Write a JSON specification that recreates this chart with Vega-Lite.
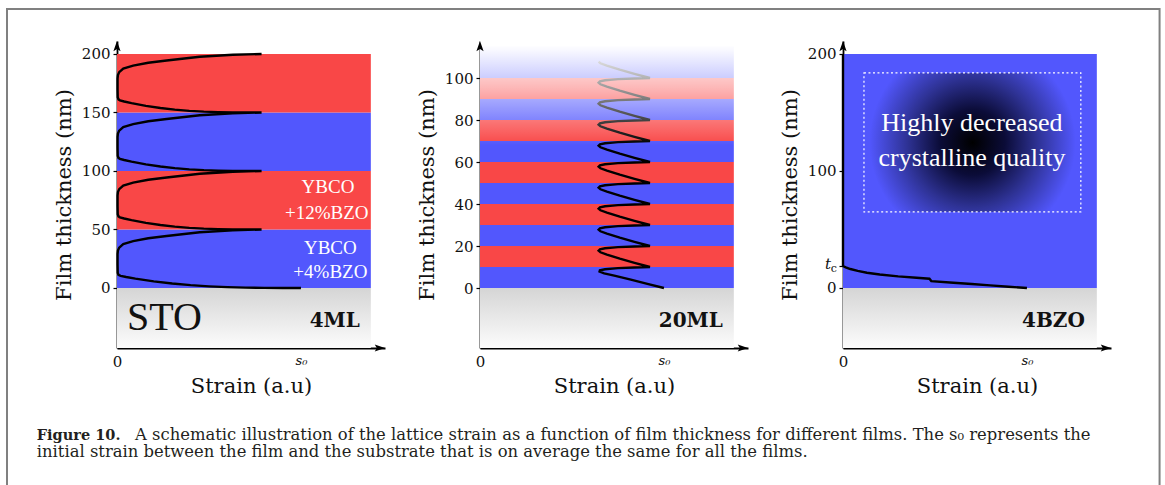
{
  "$schema": "https://vega.github.io/schema/vega-lite/v6.json",
  "padding": {"left": 6, "top": 7, "right": 0, "bottom": 0},
  "autosize": {"type": "pad"},
  "background": "white",
  "spacing": 95,
  "bounds": "flush",
  "datasets": {
    "bands1": [
      {"y0": 0, "y1": 50, "m": "b"},
      {"y0": 50, "y1": 100, "m": "r"},
      {"y0": 100, "y1": 150, "m": "b"},
      {"y0": 150, "y1": 200, "m": "r"}
    ],
    "bands2": [
      {"y0": 0, "y1": 10, "m": "b"},
      {"y0": 10, "y1": 20, "m": "r"},
      {"y0": 20, "y1": 30, "m": "b"},
      {"y0": 30, "y1": 40, "m": "r"},
      {"y0": 40, "y1": 50, "m": "b"},
      {"y0": 50, "y1": 60, "m": "r"},
      {"y0": 60, "y1": 70, "m": "b"},
      {"y0": 70, "y1": 80, "m": "r"},
      {"y0": 80, "y1": 90, "m": "b"},
      {"y0": 90, "y1": 100, "m": "r"},
      {"y0": 100, "y1": 115, "m": "b"}
    ],
    "bands3": [
      {"y0": 0, "y1": 200, "m": "b"}
    ],
    "curve1": [
      {"s": 1.0, "h": 0}, {"s": 0.9, "h": 0.01}, {"s": 0.8, "h": 0.09}, {"s": 0.7, "h": 0.3}, {"s": 0.6, "h": 0.7}, {"s": 0.5, "h": 1.4}, {"s": 0.4, "h": 2.4}, {"s": 0.3, "h": 3.8}, {"s": 0.2, "h": 5.6}, {"s": 0.1, "h": 8.0}, {"s": 0.05, "h": 9.4}, {"s": 0.02, "h": 10.4}, {"s": 0.008, "h": 11.2}, {"s": 0.004, "h": 13}, {"s": 0.003, "h": 20}, {"s": 0.003, "h": 29}, {"s": 0.005, "h": 32}, {"s": 0.012, "h": 34.5}, {"s": 0.034, "h": 37.6}, {"s": 0.088, "h": 40}, {"s": 0.17, "h": 42.5}, {"s": 0.27, "h": 44.4}, {"s": 0.45, "h": 47.6}, {"s": 0.63, "h": 49.3}, {"s": 0.786, "h": 50},
      {"s": 0.707, "h": 50.01}, {"s": 0.629, "h": 50.09}, {"s": 0.55, "h": 50.3}, {"s": 0.472, "h": 50.7}, {"s": 0.393, "h": 51.4}, {"s": 0.314, "h": 52.4}, {"s": 0.236, "h": 53.8}, {"s": 0.157, "h": 55.6}, {"s": 0.079, "h": 58}, {"s": 0.039, "h": 59.4}, {"s": 0.016, "h": 60.4}, {"s": 0.008, "h": 61.2}, {"s": 0.004, "h": 63}, {"s": 0.003, "h": 70}, {"s": 0.003, "h": 79}, {"s": 0.005, "h": 82}, {"s": 0.012, "h": 84.5}, {"s": 0.034, "h": 87.6}, {"s": 0.088, "h": 90}, {"s": 0.17, "h": 92.5}, {"s": 0.27, "h": 94.4}, {"s": 0.45, "h": 97.6}, {"s": 0.63, "h": 99.3}, {"s": 0.786, "h": 100},
      {"s": 0.707, "h": 100.01}, {"s": 0.629, "h": 100.09}, {"s": 0.55, "h": 100.3}, {"s": 0.472, "h": 100.7}, {"s": 0.393, "h": 101.4}, {"s": 0.314, "h": 102.4}, {"s": 0.236, "h": 103.8}, {"s": 0.157, "h": 105.6}, {"s": 0.079, "h": 108}, {"s": 0.039, "h": 109.4}, {"s": 0.016, "h": 110.4}, {"s": 0.008, "h": 111.2}, {"s": 0.004, "h": 113}, {"s": 0.003, "h": 120}, {"s": 0.003, "h": 129}, {"s": 0.005, "h": 132}, {"s": 0.012, "h": 134.5}, {"s": 0.034, "h": 137.6}, {"s": 0.088, "h": 140}, {"s": 0.17, "h": 142.5}, {"s": 0.27, "h": 144.4}, {"s": 0.45, "h": 147.6}, {"s": 0.63, "h": 149.3}, {"s": 0.786, "h": 150},
      {"s": 0.707, "h": 150.01}, {"s": 0.629, "h": 150.09}, {"s": 0.55, "h": 150.3}, {"s": 0.472, "h": 150.7}, {"s": 0.393, "h": 151.4}, {"s": 0.314, "h": 152.4}, {"s": 0.236, "h": 153.8}, {"s": 0.157, "h": 155.6}, {"s": 0.079, "h": 158}, {"s": 0.039, "h": 159.4}, {"s": 0.016, "h": 160.4}, {"s": 0.008, "h": 161.2}, {"s": 0.004, "h": 163}, {"s": 0.003, "h": 170}, {"s": 0.003, "h": 179}, {"s": 0.005, "h": 182}, {"s": 0.012, "h": 184.5}, {"s": 0.034, "h": 187.6}, {"s": 0.088, "h": 190}, {"s": 0.17, "h": 192.5}, {"s": 0.27, "h": 194.4}, {"s": 0.45, "h": 197.6}, {"s": 0.63, "h": 199.3}, {"s": 0.786, "h": 200}
    ],
    "curve2": [
      {"s": 1.0, "h": 0}, {"s": 0.91, "h": 2.0}, {"s": 0.82, "h": 4.0}, {"s": 0.73, "h": 5.9}, {"s": 0.675, "h": 7.0}, {"s": 0.65, "h": 7.8}, {"s": 0.652, "h": 8.4}, {"s": 0.68, "h": 8.95}, {"s": 0.75, "h": 9.45}, {"s": 0.84, "h": 9.78}, {"s": 0.924, "h": 10},
      {"s": 0.84, "h": 12}, {"s": 0.76, "h": 14}, {"s": 0.69, "h": 15.9}, {"s": 0.655, "h": 17}, {"s": 0.645, "h": 17.8}, {"s": 0.652, "h": 18.4}, {"s": 0.68, "h": 18.95}, {"s": 0.75, "h": 19.45}, {"s": 0.84, "h": 19.78}, {"s": 0.924, "h": 20},
      {"s": 0.84, "h": 22}, {"s": 0.76, "h": 24}, {"s": 0.69, "h": 25.9}, {"s": 0.655, "h": 27}, {"s": 0.645, "h": 27.8}, {"s": 0.652, "h": 28.4}, {"s": 0.68, "h": 28.95}, {"s": 0.75, "h": 29.45}, {"s": 0.84, "h": 29.78}, {"s": 0.924, "h": 30},
      {"s": 0.84, "h": 32}, {"s": 0.76, "h": 34}, {"s": 0.69, "h": 35.9}, {"s": 0.655, "h": 37}, {"s": 0.645, "h": 37.8}, {"s": 0.652, "h": 38.4}, {"s": 0.68, "h": 38.95}, {"s": 0.75, "h": 39.45}, {"s": 0.84, "h": 39.78}, {"s": 0.924, "h": 40},
      {"s": 0.84, "h": 42}, {"s": 0.76, "h": 44}, {"s": 0.69, "h": 45.9}, {"s": 0.655, "h": 47}, {"s": 0.645, "h": 47.8}, {"s": 0.652, "h": 48.4}, {"s": 0.68, "h": 48.95}, {"s": 0.75, "h": 49.45}, {"s": 0.84, "h": 49.78}, {"s": 0.924, "h": 50},
      {"s": 0.84, "h": 52}, {"s": 0.76, "h": 54}, {"s": 0.69, "h": 55.9}, {"s": 0.655, "h": 57}, {"s": 0.645, "h": 57.8}, {"s": 0.652, "h": 58.4}, {"s": 0.68, "h": 58.95}, {"s": 0.75, "h": 59.45}, {"s": 0.84, "h": 59.78}, {"s": 0.924, "h": 60},
      {"s": 0.84, "h": 62}, {"s": 0.76, "h": 64}, {"s": 0.69, "h": 65.9}, {"s": 0.655, "h": 67}, {"s": 0.645, "h": 67.8}, {"s": 0.652, "h": 68.4}, {"s": 0.68, "h": 68.95}, {"s": 0.75, "h": 69.45}, {"s": 0.84, "h": 69.78}, {"s": 0.924, "h": 70},
      {"s": 0.84, "h": 72}, {"s": 0.76, "h": 74}, {"s": 0.69, "h": 75.9}, {"s": 0.655, "h": 77}, {"s": 0.645, "h": 77.8}, {"s": 0.652, "h": 78.4}, {"s": 0.68, "h": 78.95}, {"s": 0.75, "h": 79.45}, {"s": 0.84, "h": 79.78}, {"s": 0.924, "h": 80},
      {"s": 0.84, "h": 82}, {"s": 0.76, "h": 84}, {"s": 0.69, "h": 85.9}, {"s": 0.655, "h": 87}, {"s": 0.645, "h": 87.8}, {"s": 0.652, "h": 88.4}, {"s": 0.68, "h": 88.95}, {"s": 0.75, "h": 89.45}, {"s": 0.84, "h": 89.78}, {"s": 0.924, "h": 90},
      {"s": 0.84, "h": 92}, {"s": 0.76, "h": 94}, {"s": 0.69, "h": 95.9}, {"s": 0.655, "h": 97}, {"s": 0.645, "h": 97.8}, {"s": 0.652, "h": 98.4}, {"s": 0.68, "h": 98.95}, {"s": 0.75, "h": 99.45}, {"s": 0.84, "h": 99.78}, {"s": 0.924, "h": 100},
      {"s": 0.84, "h": 102}, {"s": 0.76, "h": 104}, {"s": 0.69, "h": 105.9}, {"s": 0.655, "h": 107}, {"s": 0.645, "h": 107.8}
    ],
    "curve3": [
      {"s": 1.0, "h": 0}, {"s": 0.9, "h": 1.1}, {"s": 0.8, "h": 2.2}, {"s": 0.7, "h": 3.4}, {"s": 0.6, "h": 4.5}, {"s": 0.48, "h": 5.9}, {"s": 0.47, "h": 7.9}, {"s": 0.4, "h": 8.7}, {"s": 0.3, "h": 9.9}, {"s": 0.2, "h": 11.5}, {"s": 0.13, "h": 13}, {"s": 0.08, "h": 14.6}, {"s": 0.04, "h": 16.2}, {"s": 0.015, "h": 17.6}, {"s": 0, "h": 18.8}, {"s": 0, "h": 200}
    ]
  },
  "hconcat": [
    {
      "width": 268,
      "height": 307,
      "data": {"values": [{}]},
      "layer": [
        {
          "data": {"name": "bands1"},
          "mark": {"type": "rect"},
          "encoding": {
            "x": {"datum": 0, "type": "quantitative", "scale": {"domain": [0, 1.457], "nice": false, "zero": false},
                  "axis": {"title": "Strain (a.u)", "values": [0, 1], "labelExpr": "datum.value == 0 ? '0' : 's₀'", "ticks": false, "labelPadding": 6, "titlePadding": 6,
                           "labelFont": "DejaVu Serif", "titleFont": "DejaVu Serif", "titleFontSize": 21,
                           "labelFontStyle": {"condition": {"test": "datum.value == 1", "value": "italic"}, "value": "normal"},
                           "labelFontSize": {"condition": {"test": "datum.value == 1", "value": 13}, "value": 15}}},
            "x2": {"datum": 1.38},
            "y": {"field": "y0", "type": "quantitative", "scale": {"domain": [-51.3, 211.1], "nice": false, "zero": false},
                  "axis": {"title": "Film thickness (nm)", "values": [0, 50, 100, 150, 200], "tickSize": 4, "labelPadding": 3, "titlePadding": 7,
                           "labelFont": "DejaVu Serif", "titleFont": "DejaVu Serif", "labelFontSize": 15, "titleFontSize": 21}},
            "y2": {"field": "y1"},
            "color": {"field": "m", "type": "nominal", "scale": {"domain": ["b", "r"], "range": ["#5257fd", "#f94747"]}, "legend": null}
          }
        },
        {
          "mark": {"type": "rect", "fill": {"gradient": "linear", "x1": 0, "y1": 0, "x2": 0, "y2": 1, "stops": [{"offset": 0, "color": "#d5d5d5"}, {"offset": 1, "color": "#fcfcfc"}]}},
          "encoding": {"x": {"datum": 0}, "x2": {"datum": 1.38}, "y": {"datum": 0}, "y2": {"datum": -51.3}}
        },
        {
          "data": {"name": "curve1"},
          "mark": {"type": "line", "color": "black", "strokeWidth": 2.4},
          "encoding": {"x": {"field": "s", "type": "quantitative"}, "y": {"field": "h", "type": "quantitative"}, "order": {"field": "h", "type": "quantitative"}}
        },
        {"mark": {"type": "text", "text": "YBCO", "font": "Liberation Serif", "fontSize": 19, "color": "white", "align": "center", "baseline": "middle"}, "encoding": {"x": {"datum": 1.147}, "y": {"datum": 86.3}}},
        {"mark": {"type": "text", "text": "+12%BZO", "font": "Liberation Serif", "fontSize": 19, "color": "white", "align": "center", "baseline": "middle"}, "encoding": {"x": {"datum": 1.14}, "y": {"datum": 64.4}}},
        {"mark": {"type": "text", "text": "YBCO", "font": "Liberation Serif", "fontSize": 19, "color": "white", "align": "center", "baseline": "middle"}, "encoding": {"x": {"datum": 1.16}, "y": {"datum": 33.9}}},
        {"mark": {"type": "text", "text": "+4%BZO", "font": "Liberation Serif", "fontSize": 19, "color": "white", "align": "center", "baseline": "middle"}, "encoding": {"x": {"datum": 1.16}, "y": {"datum": 13.9}}},
        {"mark": {"type": "text", "text": "STO", "font": "Liberation Serif", "fontSize": 40, "color": "#111111", "align": "left", "baseline": "middle"}, "encoding": {"x": {"datum": 0.054}, "y": {"datum": -25.6}}},
        {"mark": {"type": "text", "text": "4ML", "font": "DejaVu Serif", "fontWeight": "bold", "fontSize": 20, "color": "#111111", "align": "right", "baseline": "middle"}, "encoding": {"x": {"datum": 1.32}, "y": {"datum": -28.2}}},
        {"mark": {"type": "point", "shape": "M0,-1L0.6,0.7L0,0.35L-0.6,0.7Z", "filled": true, "color": "black", "size": 144, "opacity": 1}, "encoding": {"x": {"datum": 0}, "y": {"datum": 206.0}}},
        {"mark": {"type": "point", "shape": "M1,0L-0.7,0.6L-0.35,0L-0.7,-0.6Z", "filled": true, "color": "black", "size": 144, "opacity": 1}, "encoding": {"x": {"datum": 1.424}, "y": {"datum": -51.3}}},
        {"mark": {"type": "rect", "filled": false, "color": "#808080", "strokeWidth": 2}, "encoding": {"x": {"datum": -0.598}, "x2": {"datum": 5.668}, "y": {"datum": 238.5}, "y2": {"datum": -177.8}}},
        {"mark": {"type": "text", "text": "Figure 10.", "font": "DejaVu Serif", "fontWeight": "bold", "fontSize": 14.5, "color": "#231f20", "align": "left", "baseline": "alphabetic"}, "encoding": {"x": {"datum": -0.436}, "y": {"datum": -129.9}}},
        {"mark": {"type": "text", "text": "A schematic illustration of the lattice strain as a function of film thickness for different films. The s₀ represents the", "font": "DejaVu Serif", "fontSize": 16.4, "color": "#231f20", "align": "left", "baseline": "alphabetic"}, "encoding": {"x": {"datum": 0.098}, "y": {"datum": -129.9}}},
        {"mark": {"type": "text", "text": "initial strain between the film and the substrate that is on average the same for all the films.", "font": "DejaVu Serif", "fontSize": 16.4, "color": "#231f20", "align": "left", "baseline": "alphabetic"}, "encoding": {"x": {"datum": -0.436}, "y": {"datum": -144.2}}}
      ]
    },
    {
      "width": 268,
      "height": 307,
      "data": {"values": [{}]},
      "layer": [
        {
          "data": {"name": "bands2"},
          "mark": {"type": "rect"},
          "encoding": {
            "x": {"datum": 0, "type": "quantitative", "scale": {"domain": [0, 1.457], "nice": false, "zero": false},
                  "axis": {"title": "Strain (a.u)", "values": [0, 1], "labelExpr": "datum.value == 0 ? '0' : 's₀'", "ticks": false, "labelPadding": 6, "titlePadding": 6,
                           "labelFont": "DejaVu Serif", "titleFont": "DejaVu Serif", "titleFontSize": 21,
                           "labelFontStyle": {"condition": {"test": "datum.value == 1", "value": "italic"}, "value": "normal"},
                           "labelFontSize": {"condition": {"test": "datum.value == 1", "value": 13}, "value": 15}}},
            "x2": {"datum": 1.38},
            "y": {"field": "y0", "type": "quantitative", "scale": {"domain": [-28.57, 117.62], "nice": false, "zero": false},
                  "axis": {"title": "Film thickness (nm)", "values": [0, 20, 40, 60, 80, 100], "tickSize": 4, "labelPadding": 3, "titlePadding": 7,
                           "labelFont": "DejaVu Serif", "titleFont": "DejaVu Serif", "labelFontSize": 15, "titleFontSize": 21}},
            "y2": {"field": "y1"},
            "color": {"field": "m", "type": "nominal", "scale": {"domain": ["b", "r"], "range": ["#5257fd", "#f94747"]}, "legend": null}
          }
        },
        {
          "mark": {"type": "rect", "fill": {"gradient": "linear", "x1": 0, "y1": 0, "x2": 0, "y2": 1, "stops": [{"offset": 0, "color": "#d5d5d5"}, {"offset": 1, "color": "#fcfcfc"}]}},
          "encoding": {"x": {"datum": 0}, "x2": {"datum": 1.38}, "y": {"datum": 0}, "y2": {"datum": -28.57}}
        },
        {
          "data": {"name": "curve2"},
          "mark": {"type": "line", "color": "black", "strokeWidth": 2.4},
          "encoding": {"x": {"field": "s", "type": "quantitative"}, "y": {"field": "h", "type": "quantitative"}, "order": {"field": "h", "type": "quantitative"}}
        },
        {
          "mark": {"type": "rect", "fill": {"gradient": "linear", "x1": 0, "y1": 0, "x2": 0, "y2": 1, "stops": [{"offset": 0, "color": "rgba(255,255,255,1)"}, {"offset": 0.08, "color": "rgba(255,255,255,0.97)"}, {"offset": 0.44, "color": "rgba(255,255,255,0.62)"}, {"offset": 1, "color": "rgba(255,255,255,0)"}]}},
          "encoding": {"x": {"datum": 0}, "x2": {"datum": 1.4}, "y": {"datum": 68}, "y2": {"datum": 117.62}}
        },
        {"mark": {"type": "text", "text": "20ML", "font": "DejaVu Serif", "fontWeight": "bold", "fontSize": 20, "color": "#111111", "align": "right", "baseline": "middle"}, "encoding": {"x": {"datum": 1.32}, "y": {"datum": -15.7}}},
        {"mark": {"type": "point", "shape": "M0,-1L0.6,0.7L0,0.35L-0.6,0.7Z", "filled": true, "color": "black", "size": 144, "opacity": 1}, "encoding": {"x": {"datum": 0}, "y": {"datum": 114.76}}},
        {"mark": {"type": "point", "shape": "M1,0L-0.7,0.6L-0.35,0L-0.7,-0.6Z", "filled": true, "color": "black", "size": 144, "opacity": 1}, "encoding": {"x": {"datum": 1.424}, "y": {"datum": -28.57}}}
      ]
    },
    {
      "width": 268,
      "height": 307,
      "data": {"values": [{}]},
      "layer": [
        {
          "data": {"name": "bands3"},
          "mark": {"type": "rect"},
          "encoding": {
            "x": {"datum": 0, "type": "quantitative", "scale": {"domain": [0, 1.457], "nice": false, "zero": false},
                  "axis": {"title": "Strain (a.u)", "values": [0, 1], "labelExpr": "datum.value == 0 ? '0' : 's₀'", "ticks": false, "labelPadding": 6, "titlePadding": 6,
                           "labelFont": "DejaVu Serif", "titleFont": "DejaVu Serif", "titleFontSize": 21,
                           "labelFontStyle": {"condition": {"test": "datum.value == 1", "value": "italic"}, "value": "normal"},
                           "labelFontSize": {"condition": {"test": "datum.value == 1", "value": 13}, "value": 15}}},
            "x2": {"datum": 1.38},
            "y": {"field": "y0", "type": "quantitative", "scale": {"domain": [-51.3, 211.1], "nice": false, "zero": false},
                  "axis": {"title": "Film thickness (nm)", "values": [0, 18.8, 100, 200], "labelExpr": "datum.value == 18.8 ? '' : datum.label", "tickSize": 4, "labelPadding": 3, "titlePadding": 7,
                           "labelFont": "DejaVu Serif", "titleFont": "DejaVu Serif", "labelFontSize": 15, "titleFontSize": 21}},
            "y2": {"field": "y1"},
            "color": {"field": "m", "type": "nominal", "scale": {"domain": ["b", "r"], "range": ["#5257fd", "#f94747"]}, "legend": null}
          }
        },
        {
          "mark": {"type": "rect", "fill": {"gradient": "linear", "x1": 0, "y1": 0, "x2": 0, "y2": 1, "stops": [{"offset": 0, "color": "#d5d5d5"}, {"offset": 1, "color": "#fcfcfc"}]}},
          "encoding": {"x": {"datum": 0}, "x2": {"datum": 1.38}, "y": {"datum": 0}, "y2": {"datum": -51.3}}
        },
        {
          "mark": {"type": "rect", "fill": {"gradient": "radial", "x1": 0.5, "y1": 0.5, "r1": 0, "x2": 0.5, "y2": 0.5, "r2": 0.5, "stops": [{"offset": 0, "color": "#000000"}, {"offset": 0.3, "color": "#0b0c38"}, {"offset": 0.6, "color": "#2e3294"}, {"offset": 0.95, "color": "#5257fd"}]}},
          "encoding": {"x": {"datum": 0.114}, "x2": {"datum": 1.293}, "y": {"datum": 65}, "y2": {"datum": 183.8}}
        },
        {
          "mark": {"type": "rect", "filled": false, "color": "white", "strokeWidth": 1.2, "strokeDash": [2, 2.5]},
          "encoding": {"x": {"datum": 0.114}, "x2": {"datum": 1.293}, "y": {"datum": 65}, "y2": {"datum": 183.8}}
        },
        {"mark": {"type": "text", "text": "Highly decreased", "font": "Liberation Serif", "fontSize": 26, "color": "white", "align": "center", "baseline": "middle"}, "encoding": {"x": {"datum": 0.701}, "y": {"datum": 141}}},
        {"mark": {"type": "text", "text": "crystalline quality", "font": "Liberation Serif", "fontSize": 26, "color": "white", "align": "center", "baseline": "middle"}, "encoding": {"x": {"datum": 0.701}, "y": {"datum": 111}}},
        {
          "data": {"name": "curve3"},
          "mark": {"type": "line", "color": "black", "strokeWidth": 2.4},
          "encoding": {"x": {"field": "s", "type": "quantitative"}, "y": {"field": "h", "type": "quantitative"}, "order": {"field": "h", "type": "quantitative"}}
        },
        {"mark": {"type": "text", "text": "t", "font": "DejaVu Serif", "fontSize": 15, "fontStyle": "italic", "color": "#111111", "align": "right", "baseline": "middle", "dx": -12, "dy": -1.5}, "encoding": {"x": {"datum": 0}, "y": {"datum": 18.8}}},
        {"mark": {"type": "text", "text": "c", "font": "DejaVu Serif", "fontSize": 11, "color": "#111111", "align": "right", "baseline": "middle", "dx": -6, "dy": 3.5}, "encoding": {"x": {"datum": 0}, "y": {"datum": 18.8}}},
        {"mark": {"type": "text", "text": "4BZO", "font": "DejaVu Serif", "fontWeight": "bold", "fontSize": 20, "color": "#111111", "align": "right", "baseline": "middle"}, "encoding": {"x": {"datum": 1.315}, "y": {"datum": -28.2}}},
        {"mark": {"type": "point", "shape": "M0,-1L0.6,0.7L0,0.35L-0.6,0.7Z", "filled": true, "color": "black", "size": 144, "opacity": 1}, "encoding": {"x": {"datum": 0}, "y": {"datum": 206.0}}},
        {"mark": {"type": "point", "shape": "M1,0L-0.7,0.6L-0.35,0L-0.7,-0.6Z", "filled": true, "color": "black", "size": 144, "opacity": 1}, "encoding": {"x": {"datum": 1.424}, "y": {"datum": -51.3}}}
      ]
    }
  ],
  "config": {
    "view": {"stroke": null},
    "axis": {
      "labelFont": "DejaVu Serif",
      "titleFont": "DejaVu Serif",
      "labelFontSize": 15,
      "titleFontSize": 21,
      "titleFontWeight": "normal",
      "labelColor": "#111111",
      "titleColor": "#111111",
      "domainColor": "#000000",
      "domainWidth": 1.8,
      "tickColor": "#000000",
      "tickWidth": 1.2,
      "grid": false,
      "zindex": 1,
      "labelFlush": false,
      "labelOverlap": false,
      "labelBound": false
    }
  }
}
